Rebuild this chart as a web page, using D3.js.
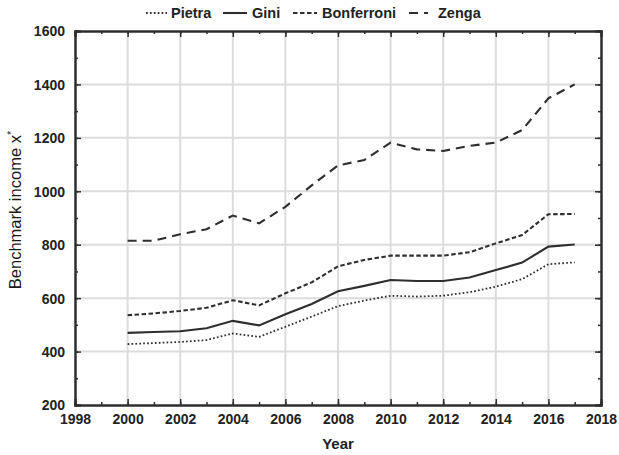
<!DOCTYPE html>
<html><head><meta charset="utf-8">
<script src="https://cdn.jsdelivr.net/npm/d3@7"></script>
<style>body{margin:0;background:#fff}svg{display:block}text{font-family:"Liberation Sans",Arial,sans-serif}</style>
</head><body><svg id="c" width="619" height="455"></svg>
<script>
const years = [2000,2001,2002,2003,2004,2005,2006,2007,2008,2009,2010,2011,2012,2013,2014,2015,2016,2017];
const pietra = [428,432,436,443,468,455,493,531,570,591,609,606,609,622,643,671,727,734];
const gini = [470,473,476,487,515,498,540,578,626,646,668,664,664,677,705,733,793,801];
const bonferroni = [536,543,552,564,592,573,618,659,719,743,759,759,759,772,805,836,914,915];
const zenga = [815,815,839,858,909,880,942,1022,1097,1117,1182,1157,1151,1170,1182,1229,1348,1400];
const seriesNames = ["Pietra","Gini","Bonferroni","Zenga"];
const xTicks = [1998,2000,2002,2004,2006,2008,2010,2012,2014,2016,2018];
const yTicks = [200,400,600,800,1000,1200,1400,1600];

const svg = d3.select("#c");
const L=75,R=601,T=31,B=405;
const x = d3.scaleLinear().domain([1998,2018]).range([L,R]);
const y = d3.scaleLinear().domain([200,1600]).range([B,T]);
const ink = "#2e2e2e";

// grid
svg.append("g").selectAll("line").data(xTicks.slice(1,-1)).join("line")
  .attr("x1",d=>x(d)).attr("x2",d=>x(d)).attr("y1",T).attr("y2",B)
  .attr("stroke","#dcdcdc").attr("stroke-width",2);
svg.append("g").selectAll("line").data(yTicks.slice(1,-1)).join("line")
  .attr("y1",d=>y(d)).attr("y2",d=>y(d)).attr("x1",L).attr("x2",R)
  .attr("stroke","#dcdcdc").attr("stroke-width",2);

// series
const styles = [
  {data:pietra, dash:"1.7,2.2", w:1.8},
  {data:gini, dash:null, w:2.1},
  {data:bonferroni, dash:"4.5,2.5", w:2.1},
  {data:zenga, dash:"9,6", w:2.1}
];
const line = d3.line().x((d,i)=>x(years[i])).y(d=>y(d));
styles.forEach(s=>{
  svg.append("path").attr("d",line(s.data)).attr("fill","none")
    .attr("stroke",ink).attr("stroke-width",s.w)
    .attr("stroke-dasharray",s.dash);
});

// axes with inward ticks
const fmt = d=>d;
const minorX = d3.range(1998,2019,1), minorY = d3.range(200,1601,100);
const axB = d3.axisBottom(x).tickValues(minorX).tickSize(-3).tickFormat("");
const axT = d3.axisTop(x).tickValues(minorX).tickSize(-3).tickFormat("");
const axL = d3.axisLeft(y).tickValues(minorY).tickSize(-3).tickFormat("");
const axR = d3.axisRight(y).tickValues(minorY).tickSize(-3).tickFormat("");
const gB = svg.append("g").attr("transform",`translate(0,${B})`).call(axB);
const gT = svg.append("g").attr("transform",`translate(0,${T})`).call(axT);
const gL = svg.append("g").attr("transform",`translate(${L},0)`).call(axL);
const gR = svg.append("g").attr("transform",`translate(${R},0)`).call(axR);
const gB2 = svg.append("g").attr("transform",`translate(0,${B})`).call(d3.axisBottom(x).tickValues(xTicks).tickSize(-6).tickPadding(12).tickFormat(fmt));
const gL2 = svg.append("g").attr("transform",`translate(${L},0)`).call(d3.axisLeft(y).tickValues(yTicks).tickSize(-6).tickPadding(10).tickFormat(fmt));
const gT2 = svg.append("g").attr("transform",`translate(0,${T})`).call(d3.axisTop(x).tickValues(xTicks).tickSize(-6).tickFormat(""));
const gR2 = svg.append("g").attr("transform",`translate(${R},0)`).call(d3.axisRight(y).tickValues(yTicks).tickSize(-6).tickFormat(""));
[gB,gT,gL,gR,gB2,gL2,gT2,gR2].forEach(g=>{
  g.selectAll(".domain").attr("stroke",ink).attr("stroke-width",2);
  g.selectAll(".tick line").attr("stroke",ink).attr("stroke-width",1.5);
  g.selectAll("text").attr("fill","#222").style("font-size","14px").style("font-weight","bold")
   .style("font-family",'"Liberation Sans",Arial,sans-serif');
});
gB2.selectAll("text").attr("dy","0.5em");
gL2.selectAll("text").attr("dy","0.35em");

// axis titles
svg.append("text").attr("x",(L+R)/2).attr("y",449).attr("text-anchor","middle")
  .style("font-size","15px").style("font-weight","bold").attr("fill","#222").text("Year");
const yl = svg.append("text").attr("transform","translate(21,210) rotate(-90)")
  .attr("text-anchor","middle").style("font-size","16.5px").attr("fill","#1a1a1a");
yl.append("tspan").text("Benchmark income x");
yl.append("tspan").attr("dy","-6").style("font-size","11px").text("*");

// legend
const leg = [
  {x1:146,x2:167,tx:171},
  {x1:223,x2:247,tx:252},
  {x1:293,x2:317,tx:322},
  {x1:409,x2:428,tx:438}
];
leg.forEach((l,i)=>{
  svg.append("line").attr("x1",l.x1).attr("x2",l.x2).attr("y1",13).attr("y2",13)
    .attr("stroke",ink).attr("stroke-width",styles[i].w).attr("stroke-dasharray",styles[i].dash);
  svg.append("text").attr("x",l.tx).attr("y",18).style("font-size","14.5px").style("font-weight","bold")
    .attr("fill","#222").text(seriesNames[i]);
});
</script></body></html>
